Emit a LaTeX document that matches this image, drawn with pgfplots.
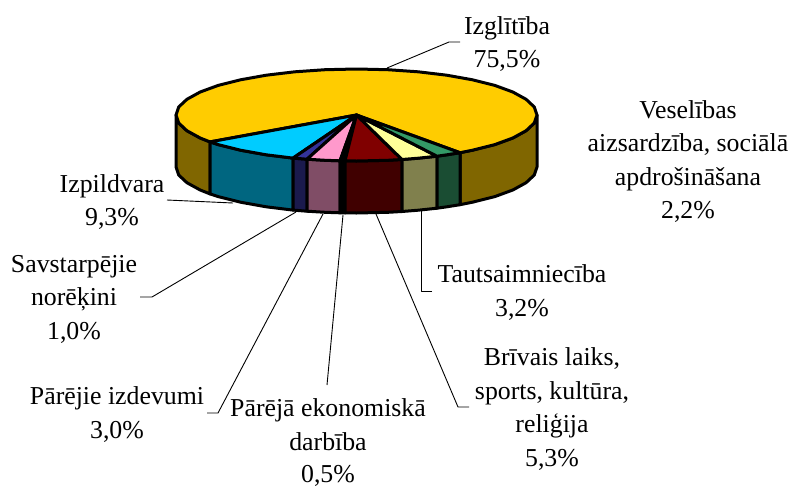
\documentclass[border=0pt]{standalone}
\usepackage{fontspec}
\setmainfont{Liberation Serif}
\usepackage{pgfplots}
\pgfplotsset{compat=1.18}
\tikzset{lab/.style={font=\fontsize{25.8}{30}\selectfont,anchor=base,text=black,inner sep=0pt}}
\begin{document}
\begin{tikzpicture}
\useasboundingbox (0,0) rectangle (793pt,488pt);
\begin{axis}[at={(0,0)},anchor=south west,scale only axis,width=793pt,height=488pt,
 xmin=0,xmax=793,ymin=0,ymax=488,y dir=reverse,hide axis,clip=false,
 every axis plot/.append style={line width=3pt,line join=round,draw=black}]
% side faces
\addplot[fill={rgb,255:red,128;green,102;blue,0}] coordinates {(460,152.7)(472.5,150.2)(494.8,144.6)(512.8,138)(526.1,130.7)(534.3,123)(537,115)(537,167)(534.3,175)(526.1,182.7)(512.8,190)(494.8,196.6)(472.5,202.2)(460,204.7)} --cycle;
\addplot[fill={rgb,255:red,128;green,102;blue,0}] coordinates {(176,115)(178.7,123)(186.9,130.7)(200.2,138)(210,141.9)(210,193.9)(200.2,190)(186.9,182.7)(178.7,175)(176,167)} --cycle;
\addplot[fill={rgb,255:red,0;green,102;blue,128}] coordinates {(210,141.9)(218.2,144.6)(240.5,150.2)(266.2,154.8)(293,158.1)(293,210.1)(266.2,206.8)(240.5,202.2)(218.2,196.6)(210,193.9)} --cycle;
\addplot[fill={rgb,255:red,26;green,26;blue,77}] coordinates {(293,158.1)(307,159.2)(307,211.2)(293,210.1)} --cycle;
\addplot[fill={rgb,255:red,128;green,77;blue,102}] coordinates {(307,159.2)(325.2,160.3)(340,160.8)(340,212.8)(325.2,212.3)(307,211.2)} --cycle;
\addplot[fill=black] coordinates {(340,160.8)(345,160.9)(345,212.9)(340,212.8)} --cycle;
\addplot[fill={rgb,255:red,64;green,0;blue,0}] coordinates {(345,160.9)(356.5,161)(387.8,160.3)(402,159.5)(402,211.5)(387.8,212.3)(356.5,213)(345,212.9)} --cycle;
\addplot[fill={rgb,255:red,128;green,128;blue,77}] coordinates {(402,159.5)(418.2,158.2)(437,156.2)(437,208.2)(418.2,210.2)(402,211.5)} --cycle;
\addplot[fill={rgb,255:red,26;green,77;blue,51}] coordinates {(437,156.2)(446.8,154.8)(460,152.7)(460,204.7)(446.8,206.8)(437,208.2)} --cycle;
% top faces
\addplot[fill={rgb,255:red,255;green,204;blue,0}] coordinates {(356.5,115)(460,152.7)(472.5,150.2)(494.8,144.6)(512.8,138)(526.1,130.7)(534.3,123)(537,115)(534.3,107)(526.1,99.3)(512.8,92)(494.8,85.4)(472.5,79.8)(446.8,75.2)(418.2,71.8)(387.8,69.7)(356.5,69)(325.2,69.7)(294.8,71.8)(266.2,75.2)(240.5,79.8)(218.2,85.4)(200.2,92)(186.9,99.3)(178.7,107)(176,115)(178.7,123)(186.9,130.7)(200.2,138)(210,141.9)} --cycle;
\addplot[fill={rgb,255:red,0;green,204;blue,255}] coordinates {(356.5,115)(210,141.9)(218.2,144.6)(240.5,150.2)(266.2,154.8)(293,158.1)} --cycle;
\addplot[fill={rgb,255:red,51;green,51;blue,153}] coordinates {(356.5,115)(293,158.1)(307,159.2)} --cycle;
\addplot[fill={rgb,255:red,255;green,153;blue,204}] coordinates {(356.5,115)(307,159.2)(325.2,160.3)(340,160.8)} --cycle;
\addplot[fill=black] coordinates {(356.5,115)(340,160.8)(345,160.9)} --cycle;
\addplot[fill={rgb,255:red,128;green,0;blue,0}] coordinates {(356.5,115)(345,160.9)(356.5,161)(387.8,160.3)(402,159.5)} --cycle;
\addplot[fill={rgb,255:red,255;green,255;blue,153}] coordinates {(356.5,115)(402,159.5)(418.2,158.2)(437,156.2)} --cycle;
\addplot[fill={rgb,255:red,51;green,153;blue,102}] coordinates {(356.5,115)(437,156.2)(446.8,154.8)(460,152.7)} --cycle;
% leader lines
\addplot[line width=0.9pt] coordinates {(387,68)(449,42)(460,42)};
\addplot[line width=0.9pt] coordinates {(167,200)(233,203)};
\addplot[line width=0.9pt] coordinates {(140,297)(152,297)(296,212)};
\addplot[line width=0.9pt] coordinates {(207,413)(218,413)(323,214)};
\addplot[line width=0.9pt] coordinates {(327,385)(343,215)};
\addplot[line width=0.9pt] coordinates {(469,407)(458,407)(376,214)};
\addplot[line width=0.9pt] coordinates {(432,291)(421,291)(421,210)};
% labels
\node[lab] at (axis cs:507,34) {Izglītība};
\node[lab] at (axis cs:507,67) {75,5\%};
\node[lab] at (axis cs:688,118) {Veselības};
\node[lab] at (axis cs:688,151.5) {aizsardzība, sociālā};
\node[lab] at (axis cs:688,185) {apdrošināšana};
\node[lab] at (axis cs:688,218.5) {2,2\%};
\node[lab] at (axis cs:112,192) {Izpildvara};
\node[lab] at (axis cs:112,225) {9,3\%};
\node[lab] at (axis cs:74,272) {Savstarpējie};
\node[lab] at (axis cs:74,305) {norēķini};
\node[lab] at (axis cs:74,339) {1,0\%};
\node[lab] at (axis cs:117,404) {Pārējie izdevumi};
\node[lab] at (axis cs:117,438) {3,0\%};
\node[lab] at (axis cs:328,416) {Pārējā ekonomiskā};
\node[lab] at (axis cs:328,450) {darbība};
\node[lab] at (axis cs:328,482) {0,5\%};
\node[lab] at (axis cs:522,282) {Tautsaimniecība};
\node[lab] at (axis cs:522,316) {3,2\%};
\node[lab] at (axis cs:552,365) {Brīvais laiks,};
\node[lab] at (axis cs:552,399) {sports, kultūra,};
\node[lab] at (axis cs:552,432) {reliģija};
\node[lab] at (axis cs:552,466) {5,3\%};
\end{axis}
\end{tikzpicture}
\end{document}
